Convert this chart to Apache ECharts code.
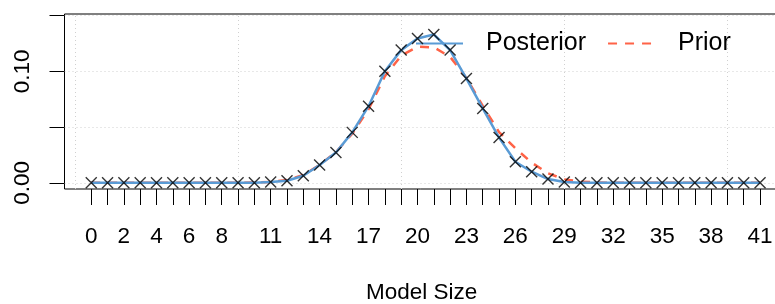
<!DOCTYPE html>
<html>
<head>
<meta charset="utf-8">
<script src="https://cdn.jsdelivr.net/npm/echarts@6/dist/echarts.min.js"></script>
<style>html,body{margin:0;padding:0;background:#fff;}#c{width:775px;height:304px;}</style>
</head>
<body>
<div id="c"></div>
<script>
// Model sizes (x categories)
var modelSizes = [0,1,2,3,4,5,6,7,8,9,10,11,12,13,14,15,16,17,18,19,20,21,22,23,24,25,26,27,28,29,30,31,32,33,34,35,36,37,38,39,40,41];
// Posterior probabilities (blue line and x markers)
var posterior = [0,0,0,0,0,0,0,0,0,0,0.0001,0.0006,0.0018,0.0063,0.0159,0.0272,0.0452,0.0687,0.1000,0.1190,0.1294,0.1330,0.1190,0.0935,0.0667,0.0405,0.0188,0.0099,0.0033,0.0006,0.0001,0,0,0,0,0,0,0,0,0,0,0];
// Prior probabilities (red dashed line)
var prior = [0,0,0,0,0,0,0,0,0,0,0.0002,0.0008,0.0025,0.0070,0.0160,0.0275,0.0440,0.0660,0.0955,0.1140,0.1220,0.1215,0.1130,0.0940,0.0690,0.0455,0.0310,0.0180,0.0085,0.0030,0.0010,0.0003,0,0,0,0,0,0,0,0,0,0];
// Axis tick labels
var xTickLabels = [0,2,4,6,8,11,14,17,20,23,26,29,32,35,38,41];
var yTicks = [0,0.05,0.10,0.15];
var yTickLabels = [0,0.10];
var xGridLines = [-1,9,19,29,39];

var FONT = "'Liberation Sans', Arial, Helvetica, sans-serif";
function pairs(vals){ return modelSizes.map(function(x,i){ return [x, vals[i]]; }); }
var GRIDSTYLE = {color: '#d0d0d0', width: 1, type: [1,3]};

var chart = echarts.init(document.getElementById('c'), null, {renderer:'canvas'});
chart.setOption({
  animation: false,
  backgroundColor: '#fff',
  grid: {left: 64.5, right: -11.8, top: 14, bottom: 115, show: true, borderColor: '#000', borderWidth: 1, backgroundColor: 'transparent',
         containLabel: false, outerBoundsMode: 'none'},
  legend: {
    data: ['Posterior','Prior'],
    left: 415, top: 31, padding: 0,
    itemWidth: 47, itemHeight: 14, itemGap: 21,
    itemStyle: {opacity: 0},
    textStyle: {fontFamily: FONT, fontSize: 25, color: '#000', padding: [0,0,0,18], lineHeight: 25}
  },
  xAxis: {
    type: 'value', min: -1.64, max: 42.64, position: 'bottom',
    axisLine: {show: false, onZero: false},
    axisTick: {show: true, inside: false, length: 16, customValues: modelSizes, lineStyle: {color: '#000', width: 1}},
    axisLabel: {show: true, customValues: xTickLabels, margin: 37, fontFamily: FONT, fontSize: 22.5, color: '#000', lineHeight: 22.5},
    splitLine: {show: false},
    name: 'Model Size', nameLocation: 'middle', nameGap: 93,
    nameTextStyle: {fontFamily: FONT, fontSize: 22.5, color: '#000', lineHeight: 22.5, padding: [0,8,0,0]}
  },
  yAxis: {
    type: 'value', min: -0.0056, max: 0.1514,
    axisLine: {show: false, onZero: false},
    axisTick: {show: true, inside: false, length: 15, customValues: yTicks, lineStyle: {color: '#000', width: 1}},
    axisLabel: {show: true, customValues: yTickLabels, rotate: 90, margin: 30, fontFamily: FONT, fontSize: 22.5, color: '#000', lineHeight: 22.5,
      formatter: function(v){ return v.toFixed(2); }},
    splitLine: {show: true, lineStyle: GRIDSTYLE}
  },
  series: [{
    name: 'grid', type: 'line', data: [], silent: true, z: 1,
    markLine: {silent: true, symbol: ['none','none'], label: {show: false}, lineStyle: GRIDSTYLE, animation: false,
      data: xGridLines.map(function(v){ return {xAxis: v}; })}
  },{
    name: 'Posterior', type: 'line', data: pairs(posterior),
    symbol: 'none', lineStyle: {color: '#5A9BD5', width: 2.5}, itemStyle: {color: '#5A9BD5'}, z: 3
  },{
    name: 'Prior', type: 'line', data: pairs(prior),
    symbol: 'none', lineStyle: {color: '#FF6347', width: 2.5, type: [9,8]}, itemStyle: {color: '#FF6347'}, z: 2
  },{
    name: 'points', type: 'scatter', data: pairs(posterior),
    symbol: 'path://M0,0L10,10M10,0L0,10', symbolSize: 11,
    itemStyle: {color: 'none', borderColor: '#000', borderWidth: 1.4}, z: 4
  }]
});
</script>
</body>
</html>
